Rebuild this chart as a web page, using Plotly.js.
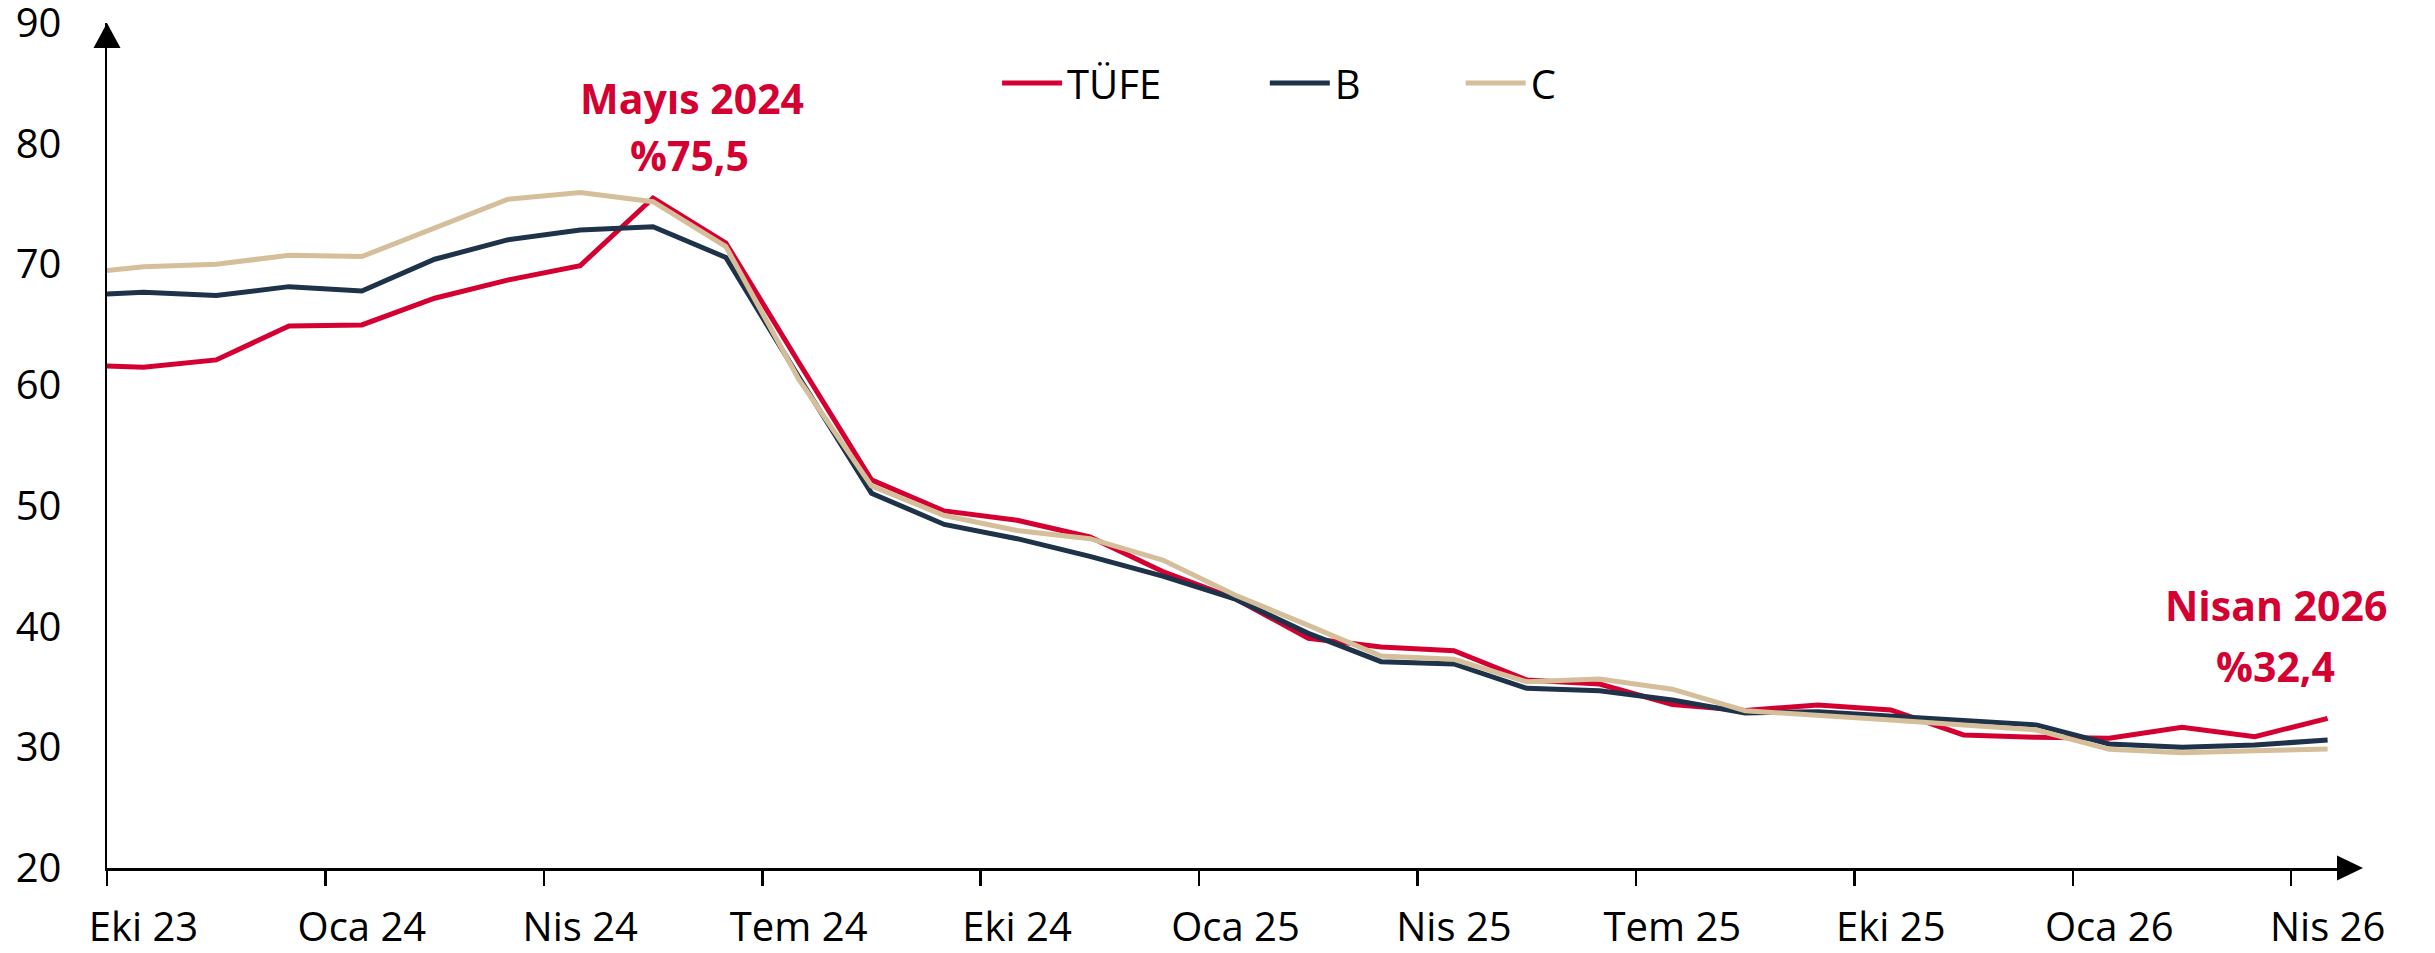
<!DOCTYPE html>
<html>
<head>
<meta charset="utf-8">
<script src="https://cdn.plot.ly/plotly-3.0.1.min.js"></script>
<style>html,body{margin:0;padding:0;background:#ffffff;}</style>
</head>
<body>
<div id="chart" style="width:2435px;height:953px;"></div>
<script>
// Monthly categories (first month only feeds the clipped start of the lines)
const months = ['Eyl 23','Eki 23','Kas 23','Ara 23','Oca 24','Şub 24','Mar 24','Nis 24','May 24','Haz 24','Tem 24','Ağu 24',
  'Eyl 24','Eki 24','Kas 24','Ara 24','Oca 25','Şub 25','Mar 25','Nis 25','May 25','Haz 25','Tem 25','Ağu 25',
  'Eyl 25','Eki 25','Kas 25','Ara 25','Oca 26','Şub 26','Mar 26','Nis 26'];

const tufe = [61.7, 61.48, 62.09, 64.9, 64.99, 67.2, 68.7, 69.9, 75.5, 71.78, 61.9, 52.15,
  49.58, 48.81, 47.42, 44.56, 42.3, 39.03, 38.3, 38.0, 35.58, 35.24, 33.55, 33.05,
  33.5, 33.09, 31.02, 30.83, 30.75, 31.66, 30.88, 32.4];

const seriesB = [67.41, 67.69, 67.42, 68.16, 67.8, 70.43, 72.03, 72.86, 73.13, 70.58, 60.7, 51.05,
  48.46, 47.28, 45.81, 44.18, 42.27, 39.44, 37.09, 36.9, 34.89, 34.69, 33.92, 32.85,
  32.95, 32.59, 32.26, 31.85, 30.27, 30.0, 30.19, 30.6];

const seriesC = [69.17, 69.81, 70.01, 70.76, 70.65, 73.0, 75.39, 75.95, 75.2, 71.48, 60.5, 51.65,
  49.2, 47.96, 47.28, 45.51, 42.6, 40.1, 37.56, 37.29, 35.43, 35.66, 34.81, 33.03,
  32.68, 32.26, 31.85, 31.43, 29.83, 29.55, 29.72, 29.86];

const tickMonths = ['Eki 23','Oca 24','Nis 24','Tem 24','Eki 24','Oca 25','Nis 25','Tem 25','Eki 25','Oca 26','Nis 26'];
const yTicks = [20, 30, 40, 50, 60, 70, 80, 90];

const seriesNames = ['TÜFE', 'B', 'C'];
const seriesColors = ['#D50032', '#1E3249', '#D5BF9B'];
const seriesData = [tufe, seriesB, seriesC];

const FONT = '"Open Sans", "Noto Sans", sans-serif';

const legendIds = ['legend', 'legend2', 'legend3'];
const traces = seriesData.map((vals, i) => ({
  type: 'scatter',
  mode: 'lines',
  x: months,
  y: vals,
  name: seriesNames[i],
  line: {color: seriesColors[i], width: 5},
  legend: legendIds[i],
  hoverinfo: 'skip'
}));

const legendBase = {
  orientation: 'h',
  yanchor: 'middle',
  xanchor: 'left',
  y: 0.929,
  bgcolor: 'rgba(0,0,0,0)',
  borderwidth: 0,
  font: {family: FONT, size: 40, color: '#000000'},
  itemwidth: 60,
  tracegroupgap: 0
};

const layout = {
  width: 2435,
  height: 953,
  paper_bgcolor: '#ffffff',
  plot_bgcolor: '#ffffff',
  margin: {l: 107, r: 95, t: 23, b: 85, pad: 0},
  showlegend: true,
  legend: Object.assign({}, legendBase, {x: 0.3986}),
  legend2: Object.assign({}, legendBase, {x: 0.5185}),
  legend3: Object.assign({}, legendBase, {x: 0.6062}),
  xaxis: {
    type: 'category',
    categoryorder: 'array',
    categoryarray: months,
    range: [0.5, 31.17],
    autorange: false,
    tickmode: 'array',
    tickvals: tickMonths,
    ticktext: tickMonths,
    tickson: 'boundaries',
    tickangle: 0,
    ticks: 'outside',
    ticklen: 15,
    tickwidth: 2.5,
    tickcolor: '#000000',
    showline: true,
    linecolor: '#000000',
    linewidth: 2.5,
    showgrid: false,
    zeroline: false,
    tickfont: {family: FONT, size: 40, color: '#000000'},
    ticklabelstandoff: 22
  },
  yaxis: {
    range: [20, 90],
    autorange: false,
    tickmode: 'array',
    tickvals: yTicks,
    ticks: '',
    showline: true,
    linecolor: '#000000',
    linewidth: 2.5,
    showgrid: false,
    zeroline: false,
    ticklabeloverflow: 'allow',
    tickfont: {family: FONT, size: 40, color: '#000000'},
    ticklabelstandoff: 35
  },
  shapes: [
    {type: 'path', xref: 'paper', yref: 'paper', path: 'M 0 1 L -0.00605 0.97041 L 0.00605 0.97041 Z',
     fillcolor: '#000000', line: {width: 0}},
    {type: 'path', xref: 'paper', yref: 'paper', path: 'M 1.0103 0 L 0.99866 0.01479 L 0.99866 -0.01479 Z',
     fillcolor: '#000000', line: {width: 0}}
  ],
  annotations: [
    {xref: 'paper', yref: 'paper', x: 0.262, y: 0.9112, text: '<b>Mayıs 2024</b>', showarrow: false,
     xanchor: 'center', yanchor: 'middle', font: {family: FONT, size: 41, color: '#D50032'}},
    {xref: 'paper', yref: 'paper', x: 0.261, y: 0.8438, text: '<b>%75,5</b>', showarrow: false,
     xanchor: 'center', yanchor: 'middle', font: {family: FONT, size: 41, color: '#D50032'}},
    {xref: 'paper', yref: 'paper', x: 0.9713, y: 0.3112, text: '<b>Nisan 2026</b>', showarrow: false,
     xanchor: 'center', yanchor: 'middle', font: {family: FONT, size: 41, color: '#D50032'}},
    {xref: 'paper', yref: 'paper', x: 0.9709, y: 0.2390, text: '<b>%32,4</b>', showarrow: false,
     xanchor: 'center', yanchor: 'middle', font: {family: FONT, size: 41, color: '#D50032'}}
  ]
};

Plotly.newPlot('chart', traces, layout, {displayModeBar: false, staticPlot: true});
</script>
</body>
</html>
